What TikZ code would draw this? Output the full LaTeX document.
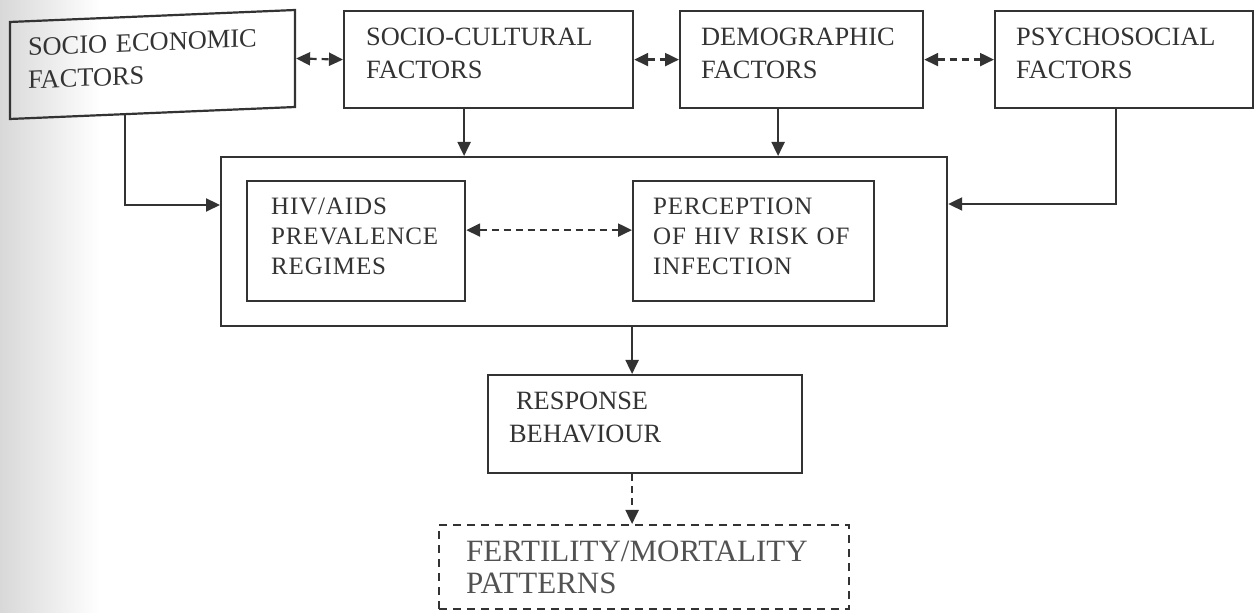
\documentclass[tikz,border=0pt]{standalone}
\usepackage{fontspec}
\setmainfont{Liberation Serif}
\usepackage{xcolor}
\usetikzlibrary{calc,arrows.meta,positioning}
\definecolor{ink}{HTML}{333333}
\definecolor{scan}{HTML}{D8D8D8}
% extra depth under the last line lifts the text inside its box
\newcommand{\lift}[1]{\rule[-#1]{0pt}{#1}}
\tikzset{
  factor/.style={draw=ink, line width=1.1pt, text=ink, anchor=north west, align=left,
    inner sep=0pt, inner xsep=10.5pt, minimum height=48.5pt, font=\fontsize{13.2}{16.5}\selectfont},
  inner/.style={factor, minimum height=60pt,
    font=\fontsize{12.5}{15}\selectfont\addfontfeatures{LetterSpace=3.5}},
  outcome/.style={factor, dash pattern=on 4pt off 3pt, text=ink!85, font=\fontsize{15.5}{16}\selectfont},
  link/.style={draw=ink, line width=1.1pt, -{Triangle[length=7pt,width=6.5pt]}},
  twoway/.style={link, {Triangle[length=7pt,width=6.5pt]}-{Triangle[length=7pt,width=6.5pt]},
    dash pattern=on 3.5pt off 2.5pt}
}
\begin{document}
\begin{tikzpicture}[x=0.5pt,y=-0.5pt]
\useasboundingbox (0,0) rectangle (1254,613);
% scanner shadow on the left edge
\shade[left color=scan, right color=white] (0,0) rectangle (100,613);

% top row of factors
\node[factor, anchor=center, yslant=0.042, minimum width=142.5pt, inner xsep=9pt,
  text width=124.5pt] (se) at (152.5,64.5) {SOCIO ECONOMIC\\FACTORS\lift{6pt}};
\node[factor, minimum width=144.5pt, inner xsep=11pt, text width=122.5pt] (sc) at (343,10) {SOCIO-CULTURAL\\FACTORS\lift{6pt}};
\node[factor, minimum width=121.5pt, text width=100.5pt] (dm) at (679,10) {DEMOGRAPHIC\\FACTORS\lift{6pt}};
\node[factor, minimum width=129pt, text width=108pt] (ps) at (994,10) {PSYCHOSOCIAL\\FACTORS\lift{6pt}};

% middle block
\node[factor, minimum width=363pt, minimum height=84.5pt] (big) at (220,156) {};
\node[inner, minimum width=109pt, inner xsep=12pt, text width=85pt] (hiv) at (246,180) {HIV/AIDS\\PREVALENCE\\REGIMES\lift{5pt}};
\node[inner, minimum width=120.5pt, inner xsep=10pt, text width=100.5pt] (per) at (632,180) {PERCEPTION\\OF HIV RISK OF\\INFECTION\lift{5pt}};

% outcome
\node[factor, minimum width=157pt, minimum height=49pt, text width=136pt] (resp) at (487,374) {\hspace*{3.5pt}RESPONSE\\BEHAVIOUR\lift{7pt}};
\node[outcome, minimum width=205pt, minimum height=42pt, inner xsep=13.5pt, text width=178pt] (fert) at (438,524) {FERTILITY/MORTALITY\\PATTERNS};

% links
\coordinate (inL) at ([yshift=-24.5pt]big.north west);
\coordinate (inR) at ([yshift=-24pt]big.north east);
\draw[twoway] (se.east) -- (sc.west);
\draw[twoway] (sc.east) -- (dm.west);
\draw[twoway] (dm.east) -- (ps.west);
\draw[link] ([xshift=-13.75pt]se.south) |- (inL);
\draw[link] ([xshift=-4pt]ps.south) |- (inR);
\draw[link] ([xshift=-12.25pt]sc.south) -- ([xshift=-12.25pt]sc.south |- big.north);
\draw[link] ([xshift=-11.75pt]dm.south) -- ([xshift=-11.75pt]dm.south |- big.north);
\draw[twoway] ([yshift=5.5pt]hiv.east) -- ([yshift=5.5pt]per.west);
\draw[link] ([xshift=-6.5pt]resp.north |- big.south) -- ([xshift=-6.5pt]resp.north);
\draw[link, dash pattern=on 3.5pt off 2.5pt] ([xshift=-6.5pt]resp.south) -- ([xshift=-6.5pt]resp.south |- fert.north);
\end{tikzpicture}
\end{document}
